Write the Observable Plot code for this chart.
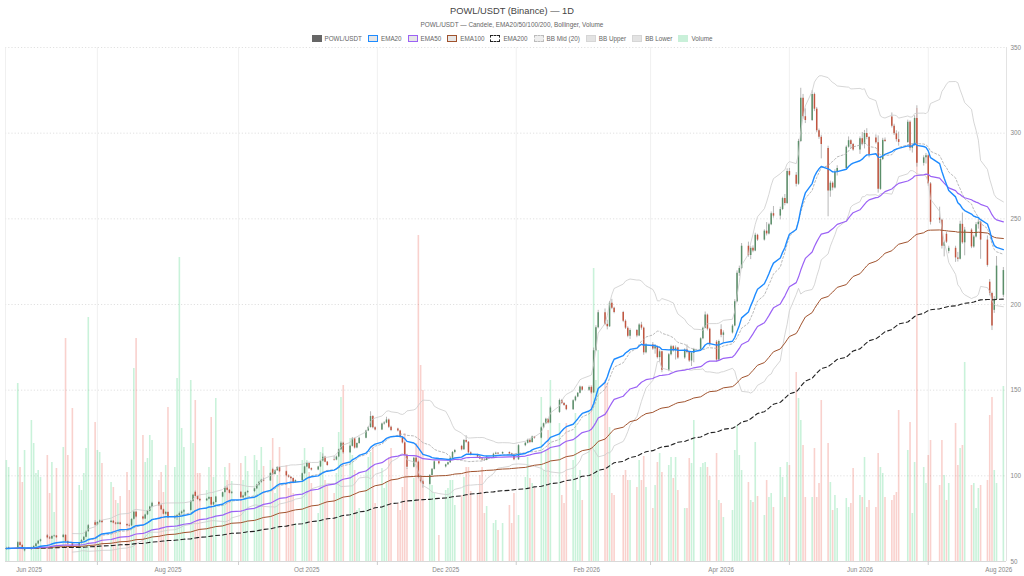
<!DOCTYPE html>
<html><head><meta charset="utf-8">
<script src="https://cdn.jsdelivr.net/npm/d3@7"></script>
<script src="https://cdn.jsdelivr.net/npm/@observablehq/plot@0.6"></script>
<style>
html,body{margin:0;padding:0;background:#fff;}
#wrap{position:relative;width:1024px;height:576px;font-family:"Liberation Sans",Arial,sans-serif;overflow:hidden;}
#head{position:relative;height:43px;}
#title{position:absolute;top:6px;left:0;width:1024px;text-align:center;font-size:9.3px;line-height:10px;color:#444;}
#sub{position:absolute;top:21px;left:0;width:1024px;text-align:center;font-size:6.4px;line-height:8px;color:#666;}
#legend{position:absolute;top:34px;left:0;width:1024px;height:8px;display:flex;justify-content:center;align-items:center;font-size:6.3px;color:#666;}
.item{display:flex;align-items:center;margin:0 3px;white-space:nowrap;}
.sw{width:10px;height:7px;box-sizing:border-box;margin-right:3px;}
#charts{position:relative;width:1024px;height:533px;}
#charts svg{position:absolute;left:0;top:0;}
</style></head>
<body><div id="wrap">
<div id="head">
<div id="title">POWL/USDT (Binance) — 1D</div>
<div id="sub">POWL/USDT — Candele, EMA20/50/100/200, Bollinger, Volume</div>
<div id="legend"></div>
</div>
<div id="charts"></div>
</div>
<script>
// ---- data ----
const holidays = ["2025-05-26","2025-06-19","2025-07-04","2025-09-01","2025-11-27","2025-12-25","2026-01-01","2026-01-19","2026-02-16","2026-04-03","2026-05-25","2026-06-19","2026-07-03"];
const firstDay = "2025-05-22", lastDay = "2026-08-03";

const open = [
57.0,57.6,58.0,61.0,59.4,56.2,57.0,57.5,58.8,60.2,
61.8,65.0,63.8,63.2,64.6,64.9,64.0,65.3,61.6,60.3,
59.1,60.6,62.3,64.1,67.4,72.6,71.2,72.8,73.6,72.7,
73.5,72.4,71.8,72.5,71.6,71.0,70.8,74.6,78.8,76.0,
74.8,77.2,79.4,81.8,84.4,82.6,80.2,77.6,78.6,75.6,
76.2,76.8,77.9,78.9,79.8,85.0,90.4,88.0,86.2,85.4,
86.4,87.3,83.0,84.4,87.6,90.2,92.8,91.6,89.8,90.4,
87.2,88.2,90.2,90.8,92.4,94.6,96.2,97.4,97.0,103.6,
100.8,103.0,104.8,102.4,100.0,99.2,98.4,96.0,97.2,101.2,
105.2,107.2,104.2,103.4,105.2,108.6,110.8,108.0,109.6,109.2,
111.0,115.2,119.0,113.4,117.2,121.6,116.2,118.8,122.0,126.2,
128.2,134.6,128.0,126.8,130.2,130.8,132.6,128.4,127.4,126.2,
122.4,119.2,112.0,105.0,110.2,108.0,99.0,96.6,95.0,100.2,
103.8,108.2,105.2,106.4,107.6,110.2,113.6,117.2,115.2,120.6,
119.6,113.4,112.2,111.0,109.8,109.2,109.0,110.8,112.6,113.2,
112.8,113.6,112.8,112.2,109.4,117.6,119.0,120.8,119.4,122.6,
122.0,128.0,130.4,133.0,130.8,137.0,144.0,142.2,141.0,138.6,
143.8,146.0,148.2,151.8,150.0,151.6,148.4,173.0,186.4,195.2,
188.4,187.0,200.8,197.8,195.4,190.2,186.2,181.4,184.8,181.6,
188.0,186.2,171.8,176.4,174.0,175.4,169.0,172.4,161.6,170.6,
175.4,173.0,174.6,168.8,173.4,172.0,167.0,171.6,173.8,180.0,
186.2,193.8,185.6,178.0,167.6,185.2,182.0,183.4,187.4,201.6,
218.2,221.0,234.0,228.6,232.8,231.2,240.4,237.6,242.8,241.2,
246.6,253.0,251.6,255.4,261.8,259.0,277.6,275.4,270.2,295.2,
320.4,309.6,307.4,322.6,314.0,301.4,297.6,291.0,266.2,270.8,
268.0,277.2,279.4,291.8,295.6,293.4,290.2,296.8,293.6,299.8,
297.4,297.2,294.4,267.2,284.6,295.8,309.4,304.0,299.6,296.2,
294.6,306.4,291.2,292.8,308.6,282.4,285.6,286.8,270.4,250.4,
249.2,234.0,241.0,231.0,232.8,227.2,226.4,246.8,236.0,243.4,
233.6,239.4,246.6,248.0,237.6,213.0,206.4,196.6,203.0,205.4];

const high = [
58.3,58.4,61.6,61.5,59.8,57.6,58.4,59.2,60.6,62.2,
63.0,65.8,64.6,65.0,65.4,65.2,65.8,65.6,62.0,60.8,
60.9,62.8,64.6,67.9,71.6,73.8,73.2,74.2,74.0,74.0,
73.9,72.8,72.9,72.9,72.0,71.8,75.0,79.4,79.2,76.4,
77.6,79.8,82.2,84.6,85.0,83.2,80.6,79.2,79.0,76.8,
77.4,78.8,79.6,80.4,85.6,89.2,91.2,88.4,86.8,86.8,
87.8,87.6,84.8,88.0,90.6,93.4,93.6,92.0,90.8,90.8,
88.6,90.6,91.4,92.8,95.0,96.6,98.0,98.6,101.8,104.4,
103.4,105.4,105.2,102.8,100.6,99.6,98.8,97.6,101.6,105.6,
107.8,107.6,104.6,105.6,109.0,112.8,111.4,108.4,111.4,111.6,
115.6,119.8,119.6,117.8,122.4,122.0,119.2,122.6,126.6,128.8,
137.4,135.2,128.6,130.8,131.6,134.2,133.2,129.0,127.8,126.6,
122.8,119.6,112.6,110.8,111.0,108.6,100.2,97.4,100.8,104.2,
108.8,108.6,106.8,108.0,110.6,114.2,115.4,117.8,121.2,123.4,
120.0,114.0,112.6,111.4,110.4,110.0,111.4,113.2,113.8,113.6,
114.0,114.0,113.2,112.6,118.2,119.6,121.4,121.2,123.2,123.0,
128.6,130.8,133.6,133.4,140.6,144.8,144.6,142.8,141.4,144.4,
146.6,148.6,152.4,152.2,152.4,152.0,174.6,187.6,196.6,197.4,
190.8,201.8,203.0,198.4,196.0,191.0,187.0,185.8,185.4,188.8,
189.6,186.8,177.2,177.8,176.6,175.8,173.6,172.8,171.4,176.2,
176.0,175.8,175.0,174.2,176.4,172.6,172.2,174.4,180.6,186.8,
195.6,194.4,186.2,179.0,179.2,188.2,184.6,188.2,202.8,219.6,
222.4,235.6,236.4,233.8,234.2,241.6,241.0,243.6,247.8,247.4,
254.0,257.2,256.8,262.6,264.2,279.2,279.4,277.0,296.4,326.2,
322.6,314.2,324.8,323.4,315.0,302.4,298.8,292.4,272.0,271.6,
278.6,281.0,292.6,297.8,296.2,294.0,297.8,300.4,301.6,302.6,
298.0,299.0,298.4,286.4,297.0,297.2,311.8,305.2,301.4,300.6,
307.6,307.2,293.6,310.2,316.0,286.8,288.2,287.4,271.2,256.8,
249.8,237.0,242.2,234.0,234.0,230.4,248.6,253.4,245.0,244.2,
240.4,247.8,250.0,248.6,240.0,214.6,207.2,204.6,228.0,221.6];

const low = [
56.5,57.0,57.8,59.0,56.8,55.6,56.4,57.1,58.4,59.8,
61.2,63.2,62.8,62.9,64.0,63.4,63.6,61.0,59.8,58.4,
58.8,60.2,61.9,63.8,67.0,70.6,70.9,72.3,72.2,72.4,
72.0,71.3,71.5,71.2,70.4,70.2,70.5,74.2,75.4,74.2,
74.5,76.8,79.0,81.4,82.2,79.8,77.2,77.0,75.0,74.6,
74.0,70.2,77.2,78.2,79.4,84.6,87.6,85.6,84.8,85.0,
86.0,82.4,82.6,84.0,87.2,89.8,91.2,89.4,89.2,86.8,
86.6,87.8,89.6,90.2,92.0,94.0,95.6,96.6,96.8,100.2,
100.4,102.6,101.8,99.4,98.6,97.8,95.4,95.6,96.8,100.8,
104.8,103.8,102.8,103.0,104.8,108.2,107.6,105.6,108.6,108.8,
110.6,114.8,112.6,113.0,116.8,115.6,115.8,118.4,121.6,125.8,
127.8,127.4,126.2,126.4,129.6,130.4,127.6,125.8,125.6,121.8,
118.6,111.4,103.8,104.6,107.4,98.2,95.8,92.8,94.6,99.8,
103.4,106.4,104.6,106.0,107.2,109.8,112.8,114.6,114.8,119.0,
112.6,111.6,110.4,109.4,108.6,108.4,108.8,110.4,112.2,112.4,
112.4,112.2,111.6,108.8,109.0,117.0,118.6,118.8,119.0,121.4,
121.6,127.6,130.0,130.2,130.4,136.4,141.6,140.6,138.0,138.2,
143.2,145.6,147.8,149.4,149.2,147.6,148.0,172.4,185.8,187.6,
185.2,186.6,197.0,194.6,189.4,185.4,180.6,179.6,180.6,181.2,
185.0,170.4,171.2,173.2,171.0,168.2,166.4,160.2,160.8,170.0,
172.2,167.6,168.0,168.0,171.2,166.2,163.8,166.0,173.2,179.4,
185.8,184.6,175.4,166.4,167.0,180.6,177.6,182.8,187.0,201.0,
216.4,220.4,227.6,226.2,230.2,230.8,236.8,237.0,240.0,240.6,
246.0,250.4,249.4,254.8,257.6,258.4,274.6,268.6,269.6,294.6,
308.2,305.6,306.8,312.6,300.2,296.4,285.0,251.2,262.6,266.4,
267.4,275.0,278.8,291.2,291.0,289.4,287.6,292.6,290.8,296.2,
285.6,293.6,265.0,266.6,284.0,294.6,303.0,298.6,294.8,292.4,
294.0,289.6,288.4,292.2,280.2,280.8,282.0,269.0,246.4,247.2,
232.4,227.8,235.6,229.6,224.6,224.8,226.0,235.2,228.4,232.6,
232.8,238.8,244.0,226.4,221.8,205.0,184.8,194.8,202.4,204.0];

const close = [
57.6,57.9,61.0,59.4,57.3,57.0,57.5,58.8,60.2,61.8,
62.6,63.8,63.2,64.6,64.9,63.9,65.3,61.6,60.3,59.1,
60.6,62.3,64.1,67.4,70.9,71.2,72.8,73.6,72.7,73.5,
72.4,71.8,72.5,71.6,70.9,70.7,74.6,78.8,76.0,74.8,
77.2,79.4,81.8,84.0,82.6,80.2,77.6,78.6,75.6,76.2,
76.8,77.9,78.9,79.6,85.0,88.6,88.0,86.2,85.4,86.4,
87.3,83.0,84.4,87.6,90.2,92.8,91.6,89.8,90.4,87.2,
88.2,90.2,90.8,92.4,94.6,96.2,97.4,97.0,101.4,100.8,
103.0,104.8,102.4,100.0,99.2,98.4,96.0,97.2,101.2,105.2,
107.2,104.2,103.4,105.2,108.6,110.8,108.0,106.0,109.2,111.0,
115.2,119.0,113.4,117.2,121.6,116.2,118.8,122.0,126.2,128.2,
134.6,128.0,126.8,130.2,130.8,132.6,128.4,126.4,126.2,122.4,
119.2,112.0,105.0,110.2,108.0,99.0,96.6,95.0,100.2,103.8,
108.2,107.0,106.4,107.6,110.2,113.6,114.8,115.2,120.6,119.6,
113.4,112.2,111.0,109.8,109.2,109.0,110.8,112.6,113.2,112.8,
113.6,112.8,112.2,109.4,117.6,119.0,120.8,119.4,122.6,122.0,
128.0,130.4,133.0,130.8,139.6,144.0,142.2,141.0,138.6,143.8,
146.0,148.2,151.8,150.0,151.6,148.4,173.0,186.4,195.2,188.4,
187.0,200.8,197.8,195.4,190.2,186.2,181.4,184.8,181.6,188.0,
186.2,171.8,176.4,174.0,175.4,169.0,172.4,161.6,170.6,175.4,
173.0,174.6,168.8,173.4,172.0,167.0,171.6,173.8,180.0,186.2,
193.8,185.6,176.8,167.6,178.4,182.0,183.4,187.4,201.6,218.2,
221.0,234.0,228.6,232.8,231.2,240.4,237.6,242.8,241.2,246.6,
253.0,251.6,255.4,261.8,259.0,277.6,275.4,270.2,295.2,320.4,
309.6,307.4,322.6,314.0,301.4,297.6,293.4,266.2,270.8,268.0,
277.2,279.4,291.8,295.6,293.4,290.2,296.8,293.6,299.8,297.4,
287.2,294.4,267.2,284.6,295.8,295.2,304.0,299.6,296.2,294.6,
306.4,291.2,292.8,308.6,282.4,285.6,286.8,270.4,248.0,249.2,
234.0,236.0,236.4,232.8,227.2,226.4,246.8,236.0,243.4,233.6,
239.4,246.6,248.0,237.6,222.8,206.4,187.4,203.0,222.4,219.8];

const volume = [
101,94,178,94,79,111,141,118,88,91,
84,106,68,99,49,93,114,223,106,153,
76,71,88,113,244,139,111,109,98,79,
74,61,58,65,89,71,101,193,223,126,
99,103,126,121,81,89,69,96,154,94,
183,304,133,114,181,118,161,88,88,71,
94,144,84,163,68,94,81,98,80,98,
81,105,90,106,101,91,114,95,101,123,
68,86,114,96,73,84,68,38,101,113,
101,89,78,48,109,114,81,76,68,88,
129,164,176,123,106,91,51,53,91,104,
109,114,58,93,73,80,104,113,58,51,
74,128,93,83,118,326,196,171,84,76,
68,26,71,73,81,81,56,66,84,94,
94,70,66,86,94,48,55,38,41,31,
38,56,38,68,46,84,104,83,78,73,
164,91,111,131,181,138,66,58,138,101,
148,71,91,61,149,176,293,181,211,181,
178,134,68,66,86,91,81,81,74,101,
81,105,74,53,76,99,108,89,96,104,
83,104,71,53,53,103,98,141,94,98,
99,94,85,108,61,58,44,51,111,136,
106,91,79,61,59,119,65,46,81,64,
68,54,94,84,64,99,96,189,163,141,
116,64,64,113,64,78,161,118,79,51,
66,53,63,54,58,93,66,64,104,54,
61,54,108,94,88,64,61,66,69,151,
111,139,48,99,453,94,78,106,121,76,
121,86,61,78,138,96,113,116,199,76,
78,53,73,76,81,146,164,91,78,175];

const xLabelTicks = ["2025-06-01","2025-08-01","2025-10-01","2025-12-01","2026-02-01","2026-04-01","2026-06-01","2026-08-01"];
const xGridTicks = ["2025-07-01","2025-09-01","2025-11-01","2026-01-01","2026-03-01","2026-05-01","2026-07-01"];
const yTicks = [50,100,150,200,250,300,350];
const yGrid = [100,150,200,250,300,350];

// ---- trading-day calendar ----
const dates = [];
for (let t = Date.parse(firstDay+"T00:00Z"); t <= Date.parse(lastDay+"T00:00Z"); t += 864e5) {
  const d = new Date(t), w = d.getUTCDay();
  if (w === 0 || w === 6) continue;
  if (holidays.includes(d.toISOString().slice(0,10))) continue;
  dates.push(d);
}

// ---- indicators ----
function ema(vals, n){ const k = 2/(n+1); let e = vals[0]; return vals.map((v,i)=> i===0 ? e : (e = v*k + e*(1-k))); }
const e20 = ema(close,20), e50 = ema(close,50), e100 = ema(close,100), e200 = ema(close,200);
const bbM = [], bbU = [], bbL = [];
for (let i = 0; i < close.length; i++) {
  if (i < 19) { bbM.push(undefined); bbU.push(undefined); bbL.push(undefined); continue; }
  const w = close.slice(i-19, i+1), m = d3.mean(w);
  const sd = Math.sqrt(d3.mean(w, v => (v-m)*(v-m)));
  bbM.push(m); bbU.push(m+2*sd); bbL.push(m-2*sd);
}
const n = Math.min(dates.length, close.length);
const rows = d3.range(n).map(i => ({date:dates[i], o:open[i], h:high[i], l:low[i], c:close[i], v:volume[i],
  e20:e20[i], e50:e50[i], e100:e100[i], e200:e200[i], bbM:bbM[i], bbU:bbU[i], bbL:bbL[i]}));

// ---- layout ----
const W = 1024, H = 533, mt = 4, mb = 15, ml = 5, mr = 18;
const xDomain = [new Date("2025-05-21T15:00Z"), new Date("2026-08-04T09:00Z")];
const up = "#5b8f6a", down = "#c2553f";
const font = "Liberation Sans, Arial, sans-serif";
const common = {width:W, height:H, marginTop:mt, marginBottom:mb, marginLeft:ml, marginRight:mr,
  style:{background:"transparent", fontFamily:font, fontSize:"6.3px", color:"#888", overflow:"visible"},
  x:{type:"utc", domain:xDomain, axis:null}};

const back = Plot.plot({...common, y:{domain:[50,350], axis:null}, marks:[
  Plot.ruleY(yGrid, {stroke:"#d9d9d9", strokeWidth:0.8, strokeDasharray:"1.2,2"}),
  Plot.ruleX(xGridTicks.map(s=>new Date(s+"T00:00Z")), {stroke:"#ececec", strokeWidth:0.8}),
  Plot.ruleX([xDomain[0]], {stroke:"#ececec", strokeWidth:0.8})
]});

const vol = Plot.plot({...common, y:{domain:[0,514], axis:null}, marks:[
  Plot.ruleX(rows, {x:"date", y1:0, y2:"v", strokeWidth:1.6,
    stroke: d => d.c >= d.o ? "rgba(46,204,113,0.26)" : "rgba(231,76,60,0.26)"})
]});

const front = Plot.plot({...common, y:{domain:[50,350], axis:null}, marks:[
  Plot.ruleY([50], {stroke:"#cfcfcf", strokeWidth:0.8}),
  Plot.ruleX([xDomain[1]], {stroke:"#dcdcdc", strokeWidth:0.8}),
  Plot.axisX(xGridTicks.map(s=>new Date(s+"T00:00Z")), {anchor:"bottom", tickSize:4, tickFormat:()=>"", stroke:"#cfcfcf"}),
  Plot.axisX(xLabelTicks.map(s=>new Date(s+"T00:00Z")), {anchor:"bottom", tickSize:0, tickPadding:6, tickFormat:d3.utcFormat("%b %Y"), fill:"#888"}),
  Plot.axisY(yTicks, {anchor:"right", tickSize:0, tickPadding:4, fill:"#888"}),
  Plot.ruleX(rows, {x:"date", y1:"l", y2:"h", stroke:"#9a9a9a", strokeWidth:0.7}),
  Plot.ruleX(rows, {x:"date", y1:"o", y2:"c", strokeWidth:1.5, stroke: d => d.c >= d.o ? up : down}),
  Plot.line(rows, {x:"date", y:"bbU", stroke:"#cccccc", strokeWidth:0.8}),
  Plot.line(rows, {x:"date", y:"bbL", stroke:"#cccccc", strokeWidth:0.8}),
  Plot.line(rows, {x:"date", y:"bbM", stroke:"#a8a8a8", strokeWidth:0.8, strokeDasharray:"2,2"}),
  Plot.line(rows, {x:"date", y:"e200", stroke:"#222", strokeWidth:1.1, strokeDasharray:"4,3"}),
  Plot.line(rows, {x:"date", y:"e100", stroke:"#a0522d", strokeWidth:1.0}),
  Plot.line(rows, {x:"date", y:"e50", stroke:"#9b62f5", strokeWidth:1.2}),
  Plot.line(rows, {x:"date", y:"e20", stroke:"#1e8bff", strokeWidth:1.4})
]});

const charts = document.getElementById("charts");
[back, vol, front].forEach(s => charts.appendChild(s));

// ---- legend ----
const legendItems = [
  {label:"POWL/USDT", css:"background:#666;"},
  {label:"EMA20", css:"background:#e6e6e6;border:1.4px solid #1e8bff;"},
  {label:"EMA50", css:"background:#e6e6e6;border:1.4px solid #9b62f5;"},
  {label:"EMA100", css:"background:#e6e6e6;border:1.4px solid #a0522d;"},
  {label:"EMA200", css:"background:#fff;border:1.4px dashed #222;"},
  {label:"BB Mid (20)", css:"background:#eee;border:1px dashed #bbb;"},
  {label:"BB Upper", css:"background:#e3e3e3;border:1px solid #d6d6d6;"},
  {label:"BB Lower", css:"background:#e3e3e3;border:1px solid #d6d6d6;"},
  {label:"Volume", css:"background:#c9f0d9;"}
];
const lg = document.getElementById("legend");
legendItems.forEach(it => {
  const d = document.createElement("div"); d.className = "item";
  const s = document.createElement("div"); s.className = "sw"; s.style.cssText = it.css;
  const t = document.createElement("span"); t.textContent = it.label;
  d.appendChild(s); d.appendChild(t); lg.appendChild(d);
});
</script>
</body></html>
